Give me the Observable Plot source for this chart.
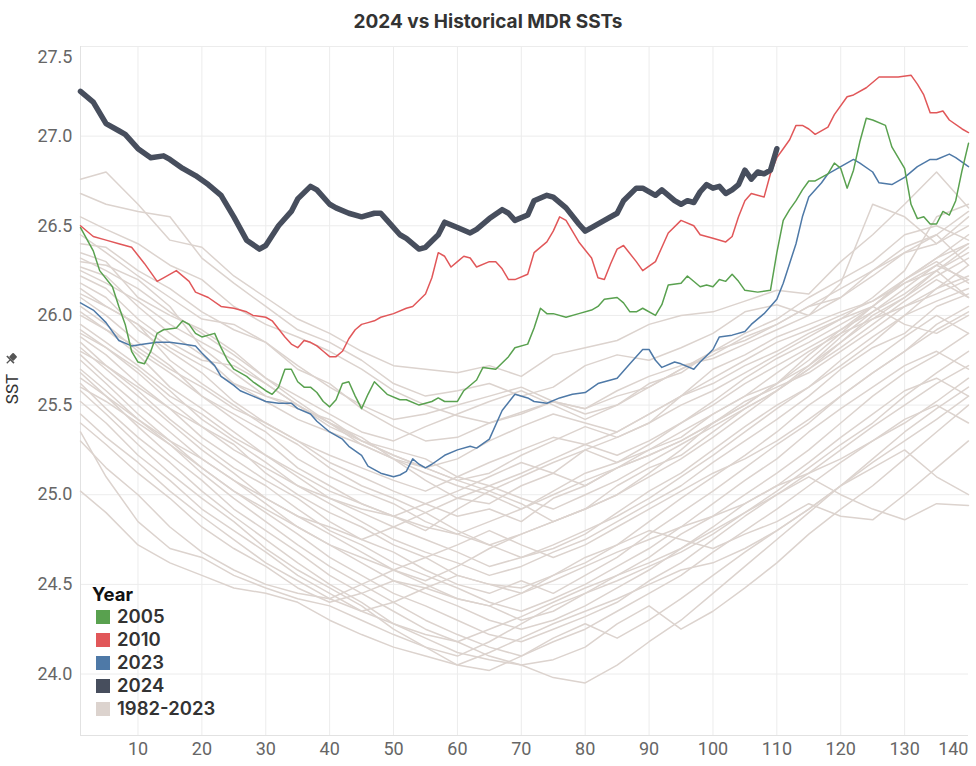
<!DOCTYPE html>
<html>
<head>
<meta charset="utf-8">
<script src="https://cdn.jsdelivr.net/npm/d3@7"></script>
<script src="https://cdn.jsdelivr.net/npm/@observablehq/plot@0.6"></script>
<style>
  html, body { margin: 0; padding: 0; background: #fff; }
  #wrap { position: relative; width: 976px; height: 766px; overflow: hidden; }
  #title { height: 44px; line-height: 44px; text-align: center; font-family: Inter, Roboto, sans-serif; font-weight: 700; font-size: 19px; color: #333; }
  #legend { position: absolute; left: 92px; top: 583px; font-family: Inter, Roboto, sans-serif; }
  #legend .head { font-weight: 700; font-size: 18.5px; color: #111; line-height: 22px; height: 22px; }
  #legend .row { height: 23px; line-height: 23px; font-weight: 600; font-size: 18.5px; color: #333; display: flex; align-items: center; }
  #legend .sw { width: 14px; height: 14px; margin-left: 4px; margin-right: 7px; }
</style>
</head>
<body>
<div id="wrap">
  <div id="title">2024 vs Historical MDR SSTs</div>
  <div id="chart"></div>
  <div id="legend"></div>
</div>
<script>
// ---------- tick labels ----------
const xTicks = [10, 20, 30, 40, 50, 60, 70, 80, 90, 100, 110, 120, 130, 140];
const yTicks = [24.0, 24.5, 25.0, 25.5, 26.0, 26.5, 27.0, 27.5];

// ---------- legend ----------
const legendLabels = ["2005", "2010", "2023", "2024", "1982-2023"];
const legendColors = ["#59a14f", "#e15759", "#4e79a7", "#474e5d", "#dcd3ce"];

// ---------- 2024 ----------
const days2024 = [1,3,5,7,8,10,12,14,15,17,19,21,23,25,27,29,30,32,34,35,37,38,40,41,43,45,47,48,49,51,52,54,55,57,58,60,62,63,65,67,68,69,71,72,74,75,77,79,80,81,83,85,86,88,89,91,92,94,95,96,97,98,99,100,101,102,103,104,105,106,107,108,109,110];
const sst2024 = [27.25,27.19,27.07,27.03,27.01,26.93,26.88,26.89,26.87,26.82,26.78,26.73,26.67,26.55,26.42,26.37,26.39,26.50,26.58,26.65,26.72,26.70,26.62,26.60,26.57,26.55,26.57,26.57,26.53,26.45,26.43,26.37,26.38,26.45,26.52,26.49,26.46,26.48,26.54,26.59,26.57,26.53,26.56,26.64,26.67,26.66,26.60,26.51,26.47,26.49,26.53,26.57,26.64,26.71,26.71,26.67,26.70,26.64,26.62,26.64,26.63,26.69,26.73,26.71,26.72,26.68,26.70,26.73,26.81,26.76,26.80,26.79,26.81,26.93];

// ---------- 2023 ----------
const days2023 = [1,3,5,6,7,9,11,13,15,17,19,20,22,23,25,26,28,30,32,34,35,37,38,40,42,43,45,46,48,50,51,52,53,54,55,56,58,60,62,63,65,67,69,71,72,74,76,78,80,82,85,87,89,90,91,92,94,95,97,98,100,101,103,105,106,108,109,110,111,112,113,114,115,117,118,120,122,123,125,126,128,130,132,134,135,137,138,140];
const sst2023 = [26.07,26.03,25.96,25.91,25.86,25.83,25.84,25.85,25.85,25.84,25.83,25.79,25.72,25.66,25.61,25.58,25.55,25.52,25.51,25.51,25.48,25.45,25.41,25.35,25.31,25.27,25.22,25.16,25.12,25.10,25.11,25.13,25.20,25.17,25.15,25.17,25.22,25.25,25.27,25.26,25.31,25.47,25.56,25.54,25.52,25.51,25.54,25.56,25.57,25.62,25.65,25.73,25.81,25.81,25.75,25.71,25.74,25.73,25.70,25.74,25.81,25.88,25.89,25.91,25.95,26.01,26.05,26.09,26.18,26.29,26.40,26.55,26.66,26.74,26.79,26.83,26.87,26.85,26.80,26.74,26.73,26.77,26.83,26.87,26.87,26.90,26.88,26.83];

// ---------- 2010 ----------
const days2010 = [1,3,5,7,9,11,13,14,16,18,19,21,23,25,27,28,30,31,33,34,35,36,37,38,39,40,41,42,43,44,45,46,47,48,50,52,53,55,56,57,58,59,60,61,62,63,65,66,67,68,69,71,72,74,75,76,77,78,79,81,82,83,84,85,86,88,89,91,93,95,97,98,100,102,103,104,105,106,108,109,110,111,112,113,114,115,116,118,119,121,122,124,126,129,131,132,133,134,135,136,137,139,140];
const sst2010 = [26.50,26.44,26.42,26.40,26.38,26.29,26.19,26.21,26.25,26.19,26.13,26.10,26.05,26.04,26.02,26.00,25.99,25.97,25.88,25.84,25.82,25.86,25.85,25.83,25.80,25.77,25.77,25.80,25.87,25.92,25.95,25.96,25.97,25.99,26.01,26.04,26.05,26.12,26.21,26.35,26.33,26.27,26.30,26.33,26.32,26.27,26.30,26.30,26.26,26.20,26.20,26.23,26.35,26.41,26.47,26.55,26.53,26.47,26.41,26.32,26.21,26.20,26.29,26.37,26.39,26.30,26.25,26.30,26.46,26.53,26.50,26.45,26.43,26.41,26.44,26.55,26.64,26.68,26.66,26.79,26.88,26.93,26.98,27.06,27.06,27.04,27.01,27.05,27.12,27.22,27.23,27.27,27.33,27.33,27.34,27.29,27.23,27.13,27.13,27.14,27.09,27.04,27.02];

// ---------- 2005 ----------
const days2005 = [1,3,4,6,7,8,9,10,11,12,13,14,16,17,18,19,20,22,23,24,25,27,28,30,31,32,33,34,35,36,37,38,39,40,41,42,43,44,45,46,47,49,51,52,54,56,57,58,60,61,63,64,66,68,69,71,72,73,74,75,77,79,81,82,83,85,86,87,88,89,91,92,93,95,96,98,99,100,101,102,103,104,105,107,109,110,111,112,113,114,115,116,118,119,120,121,122,123,124,125,127,128,130,131,132,133,134,135,136,137,138,139,140];
const sst2005 = [26.49,26.36,26.25,26.16,26.05,25.95,25.80,25.74,25.73,25.80,25.90,25.92,25.93,25.97,25.95,25.90,25.88,25.90,25.82,25.75,25.70,25.66,25.63,25.58,25.56,25.60,25.70,25.70,25.63,25.60,25.60,25.57,25.52,25.49,25.53,25.62,25.63,25.55,25.48,25.56,25.63,25.56,25.53,25.53,25.50,25.52,25.54,25.52,25.52,25.58,25.64,25.71,25.70,25.77,25.82,25.84,25.93,26.04,26.01,26.01,25.99,26.01,26.03,26.05,26.09,26.10,26.07,26.02,26.02,26.04,26.00,26.06,26.17,26.18,26.22,26.16,26.17,26.16,26.20,26.19,26.23,26.19,26.14,26.13,26.14,26.35,26.53,26.59,26.64,26.70,26.75,26.75,26.79,26.85,26.82,26.71,26.81,26.97,27.10,27.09,27.06,26.94,26.82,26.62,26.54,26.55,26.51,26.51,26.58,26.56,26.64,26.81,26.96];

// ---------- 1982-2022 historical (excluding 2005 and 2010) ----------
const histDays = [1,5,10,15,20,25,30,35,40,45,50,55,60,65,70,75,80,85,90,95,100,105,110,115,120,125,130,135,140];
const histYears = [1982,1983,1984,1985,1986,1987,1988,1989,1990,1991,1992,1993,1994,1995,1996,1997,1998,1999,2000,2001,2002,2003,2004,2006,2007,2008,2009,2011,2012,2013,2014,2015,2016,2017,2018,2019,2020,2021,2022];
const histSst = [
  [25.62,25.48,25.32,25.18,25.02,24.88,24.75,24.62,24.50,24.40, 24.28,24.20,24.12,24.08,24.05,23.98,23.95,24.05,24.18,24.30, 24.45,24.60,24.75,24.90,25.05,25.18,25.30,25.42,25.55],
  [25.65,25.55,25.38,25.22,25.08,24.92,24.80,24.68,24.55,24.45, 24.35,24.25,24.18,24.10,24.05,24.08,24.15,24.28,24.38,24.25, 24.35,24.48,24.62,24.78,24.92,25.05,25.20,25.35,25.50],
  [25.02,24.90,24.72,24.62,24.55,24.48,24.45,24.40,24.30,24.22, 24.15,24.10,24.05,24.12,24.20,24.28,24.35,24.42,24.50,24.58, 24.62,24.70,24.80,24.92,25.05,25.20,25.35,25.48,25.60],
  [25.35,25.10,24.85,24.70,24.65,24.55,24.48,24.42,24.38,24.30, 24.22,24.15,24.10,24.18,24.28,24.38,24.45,24.52,24.60,24.68, 24.78,24.90,25.02,25.15,25.28,25.40,25.55,25.68,25.80],
  [25.58,25.45,25.28,25.12,24.98,24.85,24.70,24.58,24.48,24.38, 24.25,24.15,24.05,24.02,24.10,24.20,24.28,24.20,24.30,24.42, 24.55,24.68,24.80,24.92,25.05,25.15,25.25,25.10,25.00],
  [25.52,25.40,25.22,25.08,24.92,24.80,24.68,24.55,24.45,24.35, 24.28,24.22,24.18,24.25,24.32,24.40,24.48,24.55,24.62,24.70, 24.80,24.90,25.00,25.10,25.00,24.92,24.86,24.95,24.94],
  [25.45,25.32,25.18,25.02,24.88,24.75,24.62,24.52,24.42,24.35, 24.40,24.48,24.55,24.50,24.45,24.52,24.60,24.68,24.75,24.82, 24.88,24.95,25.05,25.12,25.20,25.30,25.40,25.52,25.65],
  [25.40,25.28,25.12,24.98,24.82,24.70,24.60,24.48,24.40,24.45, 24.52,24.48,24.42,24.38,24.45,24.55,24.65,24.72,24.80,24.75, 24.70,24.78,24.85,24.95,24.88,24.86,25.00,25.15,25.30],
  [25.30,25.15,25.00,24.82,24.68,24.58,24.50,24.45,24.42,24.50, 24.58,24.65,24.72,24.80,24.72,24.65,24.72,24.82,24.92,25.02, 25.12,25.20,25.30,25.42,25.55,25.68,25.80,25.95,26.05],
  [25.70,25.58,25.42,25.28,25.12,24.98,24.85,24.72,24.60,24.50, 24.40,24.30,24.22,24.15,24.10,24.18,24.25,24.35,24.45,24.55, 24.68,24.80,24.92,25.05,25.18,25.30,25.42,25.50,25.40],
  [25.75,25.62,25.45,25.30,25.15,25.02,24.90,24.78,24.65,24.55, 24.45,24.38,24.30,24.22,24.18,24.25,24.32,24.40,24.52,24.62, 24.75,24.88,25.00,25.12,25.25,25.38,25.50,25.62,25.72],
  [25.78,25.65,25.50,25.35,25.20,25.08,24.95,24.82,24.72,24.62, 24.52,24.45,24.38,24.30,24.25,24.30,24.38,24.48,24.58,24.70, 24.82,24.95,25.05,25.18,25.32,25.45,25.58,25.65,25.55],
  [25.82,25.70,25.55,25.40,25.25,25.12,24.98,24.88,24.78,24.68, 24.58,24.50,24.42,24.38,24.30,24.35,24.45,24.55,24.65,24.78, 24.88,25.00,25.12,25.25,25.40,25.55,25.68,25.78,25.90],
  [25.85,25.72,25.58,25.42,25.28,25.15,25.05,24.92,24.80,24.72, 24.62,24.55,24.48,24.40,24.35,24.42,24.50,24.60,24.70,24.82, 24.95,25.08,25.20,25.35,25.48,25.60,25.72,25.80,25.70],
  [25.88,25.78,25.62,25.48,25.32,25.20,25.08,24.98,24.85,24.75, 24.68,24.58,24.50,24.45,24.52,24.45,24.55,24.65,24.78,24.90, 25.02,25.15,25.28,25.40,25.55,25.68,25.80,25.92,26.02],
  [25.92,25.82,25.68,25.52,25.38,25.28,25.12,25.00,24.90,24.82, 24.72,24.65,24.55,24.50,24.48,24.55,24.62,24.72,24.85,24.98, 25.10,25.22,25.35,25.50,25.62,25.75,25.88,26.00,25.90],
  [25.95,25.85,25.72,25.58,25.42,25.30,25.18,25.05,24.95,24.85, 24.75,24.68,24.62,24.55,24.60,24.68,24.75,24.85,24.95,25.05, 25.18,25.30,25.42,25.55,25.70,25.82,25.90,26.05,26.12],
  [26.00,25.92,25.78,25.60,25.48,25.35,25.22,25.10,24.98,24.90, 24.82,24.75,24.68,24.60,24.65,24.72,24.80,24.88,24.98,25.10, 25.22,25.35,25.48,25.60,25.75,25.88,26.00,26.08,26.15],
  [26.05,25.95,25.80,25.68,25.55,25.42,25.30,25.15,25.05,24.95, 24.88,24.80,24.92,25.02,24.95,24.85,24.92,25.00,25.12,25.25, 25.40,25.52,25.60,25.68,25.80,25.92,26.05,26.12,26.20],
  [26.10,26.00,25.85,25.72,25.55,25.45,25.35,25.20,25.10,25.02, 24.95,24.85,24.78,24.72,24.65,24.70,24.78,24.90,25.02,25.12, 25.25,25.38,25.50,25.60,25.72,25.85,26.00,26.15,26.28],
  [26.15,26.05,25.95,25.75,25.62,25.50,25.38,25.28,25.15,25.05, 24.98,24.90,24.80,24.72,24.78,24.85,24.92,25.05,25.15,25.22, 25.35,25.48,25.58,25.70,25.85,26.00,26.10,26.25,26.35],
  [26.18,26.10,25.92,25.80,25.68,25.52,25.40,25.30,25.18,25.10, 25.02,24.95,24.88,24.92,24.85,24.98,25.05,25.15,25.22,25.30, 25.40,25.50,25.62,25.78,25.92,26.05,26.20,26.32,26.40],
  [26.22,26.15,25.98,25.85,25.75,25.72,25.62,25.50,25.40,25.28, 25.20,25.12,25.05,25.00,24.92,25.02,25.12,25.18,25.25,25.32, 25.45,25.55,25.68,25.80,25.90,25.98,26.05,26.15,26.22],
  [26.27,26.22,26.05,25.90,25.78,25.62,25.55,25.50,25.40,25.32, 25.20,25.08,24.98,24.95,25.05,25.12,25.25,25.18,25.28,25.40, 25.52,25.65,25.76,25.85,25.95,26.05,26.18,26.25,26.10],
  [26.30,26.28,26.20,26.05,25.82,25.68,25.55,25.48,25.42,25.30, 25.25,25.20,25.10,25.05,25.12,25.20,25.28,25.35,25.45,25.55, 25.62,25.72,25.80,25.90,25.98,26.05,25.95,25.90,26.00],
  [26.35,26.30,26.10,26.00,25.92,25.80,25.65,25.52,25.40,25.30, 25.22,25.15,25.08,25.12,25.22,25.30,25.38,25.32,25.40,25.55, 25.70,25.78,25.88,25.95,26.02,26.08,26.20,26.30,26.18],
  [26.40,26.38,26.25,26.15,26.02,25.92,25.85,25.70,25.62,25.48, 25.38,25.30,25.32,25.40,25.45,25.52,25.45,25.50,25.62,25.68, 25.80,25.86,25.95,26.05,26.10,26.22,26.35,26.40,26.50],
  [26.45,26.35,26.22,26.10,25.98,25.95,25.85,25.72,25.60,25.50, 25.42,25.45,25.50,25.55,25.60,25.52,25.48,25.58,25.66,25.72, 25.76,25.84,25.92,26.00,26.10,26.25,26.38,26.45,26.28],
  [26.55,26.48,26.40,26.28,26.20,26.05,25.95,25.88,25.80,25.70, 25.58,25.50,25.44,25.40,25.46,25.52,25.48,25.55,25.60,25.70, 25.80,25.90,25.98,26.10,26.20,26.30,26.45,26.50,26.42],
  [26.68,26.62,26.58,26.55,26.32,26.18,26.05,25.92,25.85,25.75, 25.62,25.55,25.58,25.62,25.55,25.60,25.72,25.78,25.75,25.82, 25.90,26.02,26.06,26.00,26.18,26.62,26.55,26.40,26.55],
  [26.76,26.80,26.62,26.42,26.38,26.22,26.10,25.98,25.90,25.80, 25.72,25.70,25.68,25.72,25.66,25.78,25.82,25.86,25.95,26.00, 26.02,26.08,26.14,26.12,26.30,26.45,26.62,26.80,26.60],
  [25.68,25.55,25.42,25.30,25.20,25.08,24.98,24.88,24.82,24.75, 24.82,24.90,24.98,25.05,24.98,24.92,25.00,25.08,25.18,25.28, 25.38,25.48,25.58,25.70,25.82,25.95,26.08,26.20,26.10],
  [25.80,25.72,25.60,25.48,25.38,25.25,25.15,25.05,24.98,24.92, 24.88,24.95,25.02,25.10,25.18,25.12,25.05,25.15,25.25,25.35, 25.45,25.55,25.62,25.72,25.85,25.98,26.10,26.22,26.32],
  [26.02,25.92,25.82,25.70,25.60,25.48,25.40,25.30,25.22,25.15, 25.08,25.02,25.10,25.18,25.25,25.32,25.28,25.22,25.30,25.40, 25.50,25.62,25.72,25.82,25.92,26.02,26.12,26.25,26.38],
  [26.12,26.05,25.95,25.82,25.72,25.62,25.52,25.42,25.35,25.28, 25.20,25.15,25.20,25.30,25.38,25.45,25.40,25.35,25.45,25.55, 25.65,25.75,25.85,25.92,26.00,26.08,26.18,26.28,26.20],
  [25.60,25.52,25.40,25.28,25.15,25.02,24.92,24.82,24.72,24.65, 24.58,24.52,24.60,24.70,24.78,24.85,24.92,25.00,25.10,25.20, 25.32,25.45,25.58,25.72,25.88,26.02,26.15,26.28,26.40],
  [26.32,26.25,26.15,26.02,25.90,25.78,25.65,25.55,25.45,25.35, 25.30,25.38,25.45,25.52,25.58,25.50,25.42,25.50,25.60,25.70, 25.78,25.88,25.95,26.05,26.15,26.25,26.35,26.45,26.58],
  [25.90,25.82,25.70,25.55,25.45,25.32,25.22,25.12,25.02,24.95, 24.88,24.82,24.78,24.85,24.92,25.00,25.08,25.15,25.22,25.30, 25.40,25.50,25.62,25.75,25.90,26.05,26.20,26.32,26.45],
  [26.25,26.18,26.08,25.95,25.85,25.75,25.62,25.50,25.38,25.30, 25.22,25.15,25.08,25.02,25.10,25.18,25.25,25.32,25.40,25.50, 25.58,25.68,25.78,25.88,25.98,26.10,26.25,26.55,26.62]
];

// ---------- build rows ----------
const histRows = histYears.flatMap((yr, i) => histDays.map((d, j) => ({year: yr, day: d, sst: histSst[i][j]})));
const toRows = (ds, vs) => ds.map((d, i) => ({day: d, sst: vs[i]}));
const rows2005 = toRows(days2005, sst2005);
const rows2010 = toRows(days2010, sst2010);
const rows2023 = toRows(days2023, sst2023);
const rows2024 = toRows(days2024, sst2024);

const yMin = 23.657;
const gridColor = "#ececec";
const fmt = d3.format(".1f");

const chart = Plot.plot({
  width: 976,
  height: 722,
  marginLeft: 80,
  marginRight: 8,
  marginTop: 2,
  marginBottom: 31,
  x: {domain: [1, 140]},
  y: {domain: [yMin, 27.5]},
  style: {fontFamily: "Roboto, sans-serif", fontSize: "18px", color: "#666", background: "#fff", overflow: "visible"},
  marks: [
    Plot.gridX(xTicks.filter(t => t < 140), {stroke: gridColor, strokeOpacity: 1}),
    Plot.gridY(yTicks, {stroke: gridColor, strokeOpacity: 1}),
    Plot.ruleX([1], {stroke: "#e2e2e2"}),
    Plot.ruleY([yMin], {stroke: "#e2e2e2"}),
    Plot.axisX(xTicks.filter(t => t < 140), {tickSize: 0, tickPadding: 7, label: null, fill: "#666"}),
    Plot.axisX([140], {tickSize: 0, tickPadding: 7, label: null, fill: "#666", textAnchor: "end", dx: 0}),
    Plot.axisY(yTicks.filter(t => t < 27.5), {tickSize: 0, tickPadding: 8, tickFormat: fmt, label: null, fill: "#666"}),
    Plot.axisY([27.5], {tickSize: 0, tickPadding: 8, tickFormat: fmt, label: null, fill: "#666", dy: 11}),
    Plot.line(histRows, {x: "day", y: "sst", z: "year", stroke: legendColors[4], strokeWidth: 1.5}),
    Plot.line(rows2023, {x: "day", y: "sst", stroke: legendColors[2], strokeWidth: 1.5}),
    Plot.line(rows2005, {x: "day", y: "sst", stroke: legendColors[0], strokeWidth: 1.5}),
    Plot.line(rows2010, {x: "day", y: "sst", stroke: legendColors[1], strokeWidth: 1.5}),
    Plot.line(rows2024, {x: "day", y: "sst", stroke: legendColors[3], strokeWidth: 5.5, strokeLinejoin: "round", strokeLinecap: "round"})
  ]
});
document.getElementById("chart").appendChild(chart);

// y-axis title with pin
const svg = d3.select(chart);
svg.append("text")
  .attr("transform", "translate(18,345) rotate(-90)")
  .attr("text-anchor", "middle")
  .attr("font-family", "Roboto, sans-serif")
  .attr("font-size", 17)
  .attr("fill", "#333")
  .text("SST");
const pin = svg.append("g").attr("transform", "translate(11,315) rotate(45)").attr("fill", "#555");
pin.append("rect").attr("x", -3).attr("y", -6).attr("width", 6).attr("height", 6).attr("rx", 1);
pin.append("rect").attr("x", -5).attr("y", 0).attr("width", 10).attr("height", 1.6);
pin.append("rect").attr("x", -0.6).attr("y", 1).attr("width", 1.2).attr("height", 5);

// legend
const legend = document.getElementById("legend");
const head = document.createElement("div");
head.className = "head";
head.textContent = "Year";
legend.appendChild(head);
legendLabels.forEach((lab, i) => {
  const r = document.createElement("div");
  r.className = "row";
  const sw = document.createElement("span");
  sw.className = "sw";
  sw.style.background = legendColors[i];
  const t = document.createElement("span");
  t.textContent = lab;
  r.appendChild(sw);
  r.appendChild(t);
  legend.appendChild(r);
});
</script>
</body>
</html>
